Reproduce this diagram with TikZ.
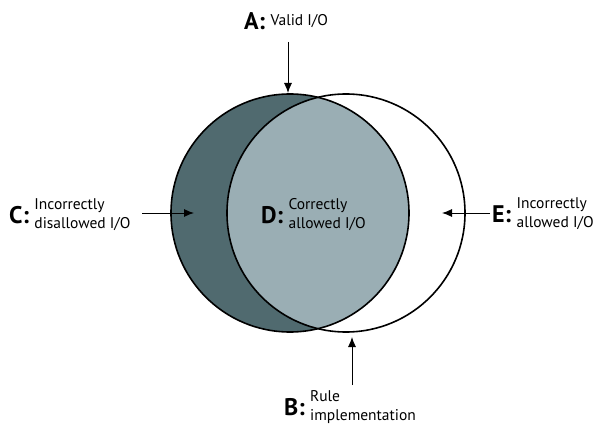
\documentclass[tikz,border=0pt]{standalone}
\usepackage{fontspec}
\setmainfont{PT Sans}
\usetikzlibrary{positioning,arrows.meta}
\definecolor{darkset}{RGB}{80,106,111}
\definecolor{lightset}{RGB}{154,174,180}
\tikzset{
  region/.style={font=\fontsize{24}{24}\selectfont\bfseries, inner sep=0pt, anchor=west},
  note/.style={font=\fontsize{15.5}{19}\selectfont, inner sep=0pt, align=left},
  ring/.style={line width=1.6pt},
  pointer/.style={line width=0.9pt, -{Latex[length=10pt,width=8pt]}}
}
\begin{document}
\begin{tikzpicture}[x=1pt, y=-1pt, node distance=5pt]
    \useasboundingbox (0,0) rectangle (603,428);
    % the two sets
    \fill[darkset] (290,213) circle[radius=119pt];
    \begin{scope}
      \clip (346,213) circle[radius=119pt];
      \fill[lightset] (290,213) circle[radius=119pt];
    \end{scope}
    \draw[ring] (290,213) circle[radius=119pt];
    \draw[ring] (346,213) circle[radius=119pt];
    % labels
    \node[region] (A) at (244,21) {A:};
    \node[note] (Atxt) [right=of A] {Valid I/O};
    \node[region] (C) at (9,215) {C:};
    \node[note] (Ctxt) [right=of C] {Incorrectly\\disallowed I/O};
    \node[region] (D) at (261,215) {D:};
    \node[note] (Dtxt) [right=of D] {Correctly\\allowed I/O};
    \node[region] (E) at (492,214) {E:};
    \node[note] (Etxt) [right=of E] {Incorrectly\\allowed I/O};
    \node[region] (B) at (284,407) {B:};
    \node[note] (Btxt) [right=of B] {Rule\\implementation};
    % arrows
    \coordinate (Atail) at (288,42);
    \coordinate (Atip) at (288,93);
    \coordinate (Ctail) at (142,213);
    \coordinate (Ctip) at (194,213);
    \coordinate (Etail) at (490,213);
    \coordinate (Etip) at (442,213);
    \coordinate (Btail) at (352,385);
    \coordinate (Btip) at (352,337);
    \draw[pointer] (Atail) to (Atip);
    \draw[pointer] (Ctail) to (Ctip);
    \draw[pointer] (Etail) to (Etip);
    \draw[pointer] (Btail) to (Btip);
  \end{tikzpicture}
\end{document}
